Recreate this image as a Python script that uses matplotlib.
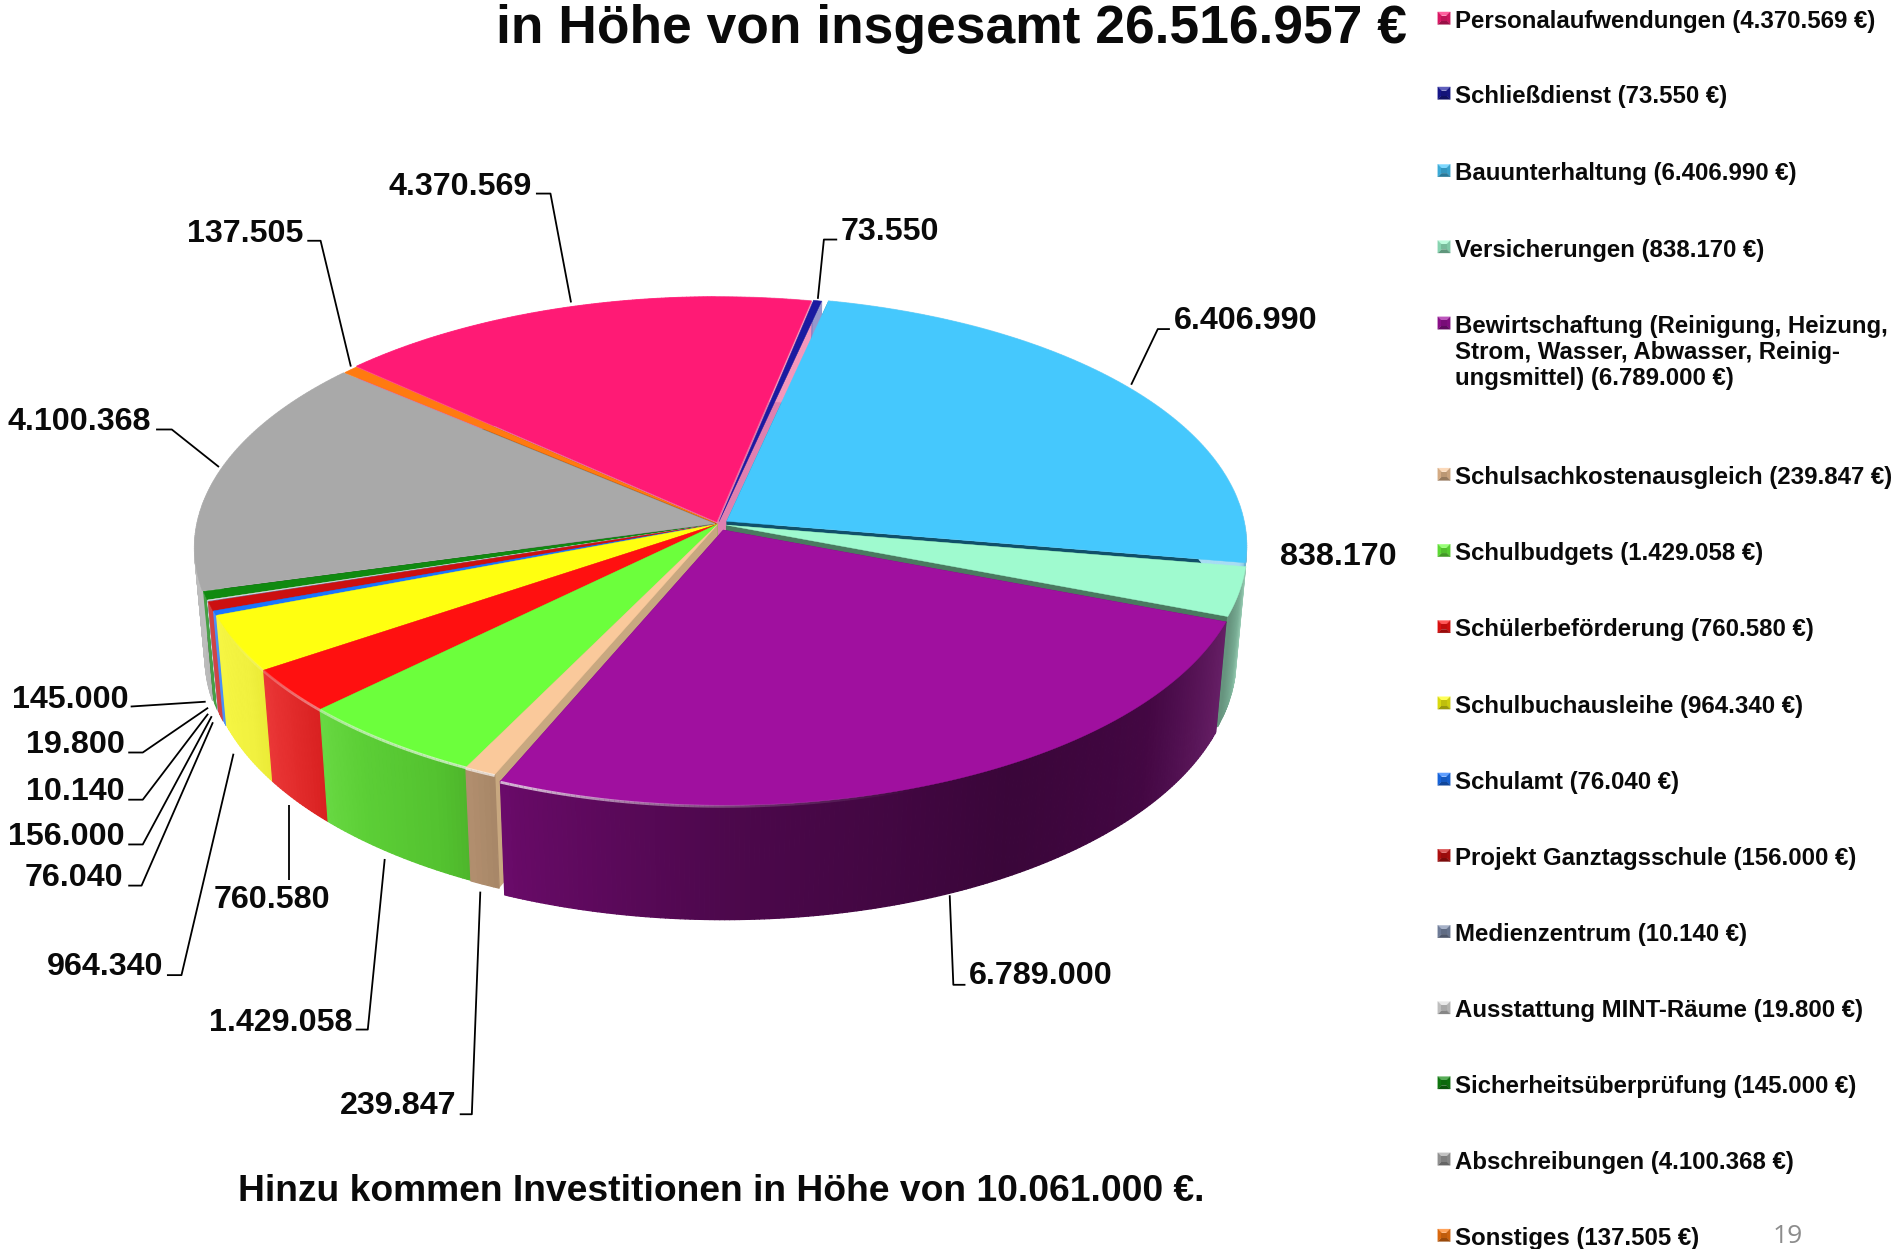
import numpy as np
import matplotlib
matplotlib.use("Agg")
import matplotlib.pyplot as plt
from matplotlib.collections import PolyCollection, LineCollection
from matplotlib.colors import to_rgb
from matplotlib.patches import Polygon

# ---------- data ----------
categories = ["Personalaufwendungen", "Schließdienst", "Bauunterhaltung", "Versicherungen",
              "Bewirtschaftung (Reinigung, Heizung,\nStrom, Wasser, Abwasser, Reinig-\nungsmittel)",
              "Schulsachkostenausgleich", "Schulbudgets", "Schülerbeförderung", "Schulbuchausleihe",
              "Schulamt", "Projekt Ganztagsschule", "Medienzentrum", "Ausstattung MINT-Räume",
              "Sicherheitsüberprüfung", "Abschreibungen", "Sonstiges"]
values = [4370569, 73550, 6406990, 838170, 6789000, 239847, 1429058, 760580, 964340,
          76040, 156000, 10140, 19800, 145000, 4100368, 137505]
value_labels = ["4.370.569", "73.550", "6.406.990", "838.170", "6.789.000", "239.847", "1.429.058",
                "760.580", "964.340", "76.040", "156.000", "10.140", "19.800", "145.000",
                "4.100.368", "137.505"]
title_text = "in Höhe von insgesamt 26.516.957 €"
note_text = "Hinzu kommen Investitionen in Höhe von 10.061.000 €."

# ---------- styles ----------
colors = ["#ff1a75", "#1a1aa0", "#45c8fd", "#9ffacf", "#a0109f", "#fac99b", "#6cff3c", "#ff1010",
          "#ffff10", "#1a75ff", "#cc1010", "#8090b0", "#e0e0e0", "#108a10", "#a9a9a9", "#ff7a10"]
wall_colors = ["#e080b0", "#7070c0", "#10506a", "#4a7a60", "#5a0a5a", "#c8a880", "#4ab820", "#b81010",
               "#c8c820", "#1050b0", "#901010", "#607090", "#a0a0a0", "#0a600a", "#606060", "#a05010"]
explode = [.008, .010, .020, .016, .026, .002, 0, 0, 0, .001, .002, .002, .002, .003, .006, .004]

S = 1897 / 1568
W, H = 1897, 1249
CX, CY = 718, 524
A, B, K = 518, 247.5, 0.097
D0, SC = 108, 0.98
START = 137.8

shade_a = [-180, -170, -150, -135, -120, -111, -90, -60, -40, -20, -8, 0]
shade_f = [1.0, .98, .93, .83, .76, .64, .48, .36, .42, .55, .8, .9]
white_a = [-180, -150, -130, -115, -40, -15, 0]
white_f = [.25, .2, .03, 0, 0, .12, .55]


def project(r, theta, ex, ey):
    u = r * np.cos(theta) + ex
    v = r * np.sin(theta) + ey
    w = 1 + K * v
    return CX + A * u / w, CY - B * v / w, w


def lower(x, y, w):
    return CX + (x - CX) * SC, CY + (y - CY) * SC + D0 / w


def shade(col, deg):
    d = ((deg + 180) % 360) - 180
    if d > 0:
        d = -180 if d > 90 else 0
    f = np.interp(d, shade_a, shade_f)
    m = np.interp(d, white_a, white_f)
    c = np.array(to_rgb(col)) * f
    return tuple(c * (1 - m) + m)


fig = plt.figure(figsize=(W / 100, H / 100), dpi=100, facecolor="white")
ax = fig.add_axes([0, 0, 1, 1])
ax.set_xlim(0, W)
ax.set_ylim(H, 0)
ax.axis("off")

fractions = np.array(values) / sum(values)
edges = START - 360 * np.concatenate([[0], np.cumsum(fractions)])
mids = (edges[:-1] + edges[1:]) / 2
order = np.argsort(-np.sin(np.radians(mids)))

WALL_Z, RIM_Z, TOP_Z = 10, 100, 200
for z, i in enumerate(order):
    t0, t1 = np.radians(edges[i]), np.radians(edges[i + 1])
    mid = np.radians(mids[i])
    ex, ey = explode[i] * np.cos(mid), explode[i] * np.sin(mid)
    n = max(3, int(abs(edges[i] - edges[i + 1]) * 2))
    th = np.linspace(t0, t1, n)
    x, y, w = project(1.0, th, ex, ey)
    bx, by = lower(x, y, w)
    ax0, ay0, aw0 = project(0.0, 0.0, ex, ey)
    abx, aby = lower(ax0, ay0, aw0)
    # radial side walls
    for xe, ye, bxe, bye in ((x[0], y[0], bx[0], by[0]), (x[-1], y[-1], bx[-1], by[-1])):
        ax.add_patch(Polygon([(ax0, ay0), (xe, ye), (bxe, bye), (abx, aby)], closed=True,
                             facecolor=wall_colors[i], edgecolor="none", zorder=WALL_Z + z))
    # outer rim with a shading running along the arc
    quads, qc = [], []
    for j in range(n - 1):
        quads.append([(x[j], y[j]), (x[j + 1], y[j + 1]), (bx[j + 1], by[j + 1]), (bx[j], by[j])])
        qc.append(shade(colors[i], np.degrees((th[j] + th[j + 1]) / 2)))
    ax.add_collection(PolyCollection(quads, facecolors=qc, edgecolors=qc, linewidths=.9, zorder=RIM_Z + z))
    # top surface
    ax.add_patch(Polygon(np.column_stack([np.r_[ax0, x], np.r_[ay0, y]]), closed=True,
                         facecolor=colors[i], edgecolor=colors[i], linewidth=.3, zorder=TOP_Z + 2 * z))
    # soft bevel highlight along the front edge
    segs, lc = [], []
    for j in range(n - 1):
        d = ((np.degrees(th[j]) + 180) % 360) - 180
        a = float(np.interp(d, [-155, -130, -110, -85, -70], [0, .55, .7, .15, 0])) if d < 0 else 0
        if a > 0:
            segs.append([(x[j], y[j] + 1), (x[j + 1], y[j + 1] + 1)])
            lc.append((1, 1, 1, a))
    if segs:
        ax.add_collection(LineCollection(segs, colors=lc, linewidths=2, zorder=TOP_Z + 2 * z + 1))

FONT = "Liberation Sans"
TOP = 400
LBL = 23.2
DY = 2.5

# value labels: (x, y, ha) read in the shrunken reference's coordinates
label_pos = {0: (440, 152, "right"), 1: (695, 189, "left"), 2: (970, 263, "left"), 3: (1058, 458, "left"),
             4: (801, 804, "left"), 5: (377, 912, "right"), 6: (291, 843, "right"), 7: (273, 741, "right"),
             8: (135, 797, "right"), 9: (102, 723, "right"), 10: (103, 689, "right"), 11: (103, 652, "right"),
             12: (103, 613, "right"), 13: (106, 576, "right"), 14: (125, 346, "right"), 15: (251, 191, "right")}
for i, (lx, ly, ha) in label_pos.items():
    ax.text(lx * S, (ly + DY) * S, value_labels[i], ha=ha, va="center", fontsize=LBL, fontweight="bold",
            family=FONT, color="#0a0a0a", zorder=TOP)

leaders = [[(443, 160), (455, 160), (472, 250)], [(692, 198), (681, 198), (676, 247)],
           [(967, 272), (957, 272), (935, 318)], [(798, 814), (788, 814), (785, 740)],
           [(380, 921), (390, 921), (397, 737)], [(294, 851), (304, 851), (318, 710)],
           [(239, 727), (239, 665)], [(138, 806), (150, 806), (193, 623)],
           [(106, 732), (117, 732), (176, 597)], [(106, 698), (118, 698), (175, 592)],
           [(106, 661), (118, 661), (172, 590)], [(106, 622), (118, 622), (172, 585)],
           [(108, 584), (170, 580)], [(129, 355), (142, 355), (181, 386)],
           [(254, 199), (265, 199), (290, 303)]]
for pts in leaders:
    p = np.array(pts) * S
    ax.plot(p[:, 0], p[:, 1], color="black", lw=1.3, zorder=TOP - 1, solid_capstyle="butt")

ax.text(1163 * S, 24 * S, title_text, ha="right", va="center", fontsize=38.4, fontweight="bold",
        family=FONT, color="#0a0a0a", zorder=TOP)
ax.text(596 * S, 985 * S, note_text, ha="center", va="center", fontsize=26.8, fontweight="bold",
        family=FONT, color="#0a0a0a", zorder=TOP)
ax.text(1478 * S, 1022 * S, "19", ha="center", va="center", fontsize=19, family="Open Sans",
        color="#8c8c8c", zorder=TOP)

# legend
legend_y = [16, 78, 142, 205, 268, 393, 456, 519, 582, 645, 708, 771, 834, 896, 959, 1022]
for i, yy in enumerate(legend_y):
    txt = f"{categories[i]} ({value_labels[i]} €)"
    ax.text(1203 * S, yy * S - 9.5, txt, ha="left", va="top", fontsize=17.25, fontweight="bold",
            family=FONT, color="#0a0a0a", linespacing=1.17, zorder=TOP)
    cx, cy, h, q = 1444, (yy - 1) * S, 6.2, 2.6
    base = np.array(to_rgb(colors[i]))
    corners = [(cx - h, cy - h), (cx + h, cy - h), (cx + h, cy + h), (cx - h, cy + h)]
    inner = [(cx - q, cy - q), (cx + q, cy - q), (cx + q, cy + q), (cx - q, cy + q)]
    tones = [base * .7 + .3, base * .8, base * .6, base * .85]
    for k in range(4):
        ax.add_patch(Polygon([corners[k], corners[(k + 1) % 4], inner[(k + 1) % 4], inner[k]],
                             closed=True, facecolor=tones[k], edgecolor=tones[k], lw=.2, zorder=TOP))
    ax.add_patch(Polygon(inner, closed=True, facecolor=base * .75, edgecolor="none", zorder=TOP))

fig.savefig("out.png", dpi=100)
